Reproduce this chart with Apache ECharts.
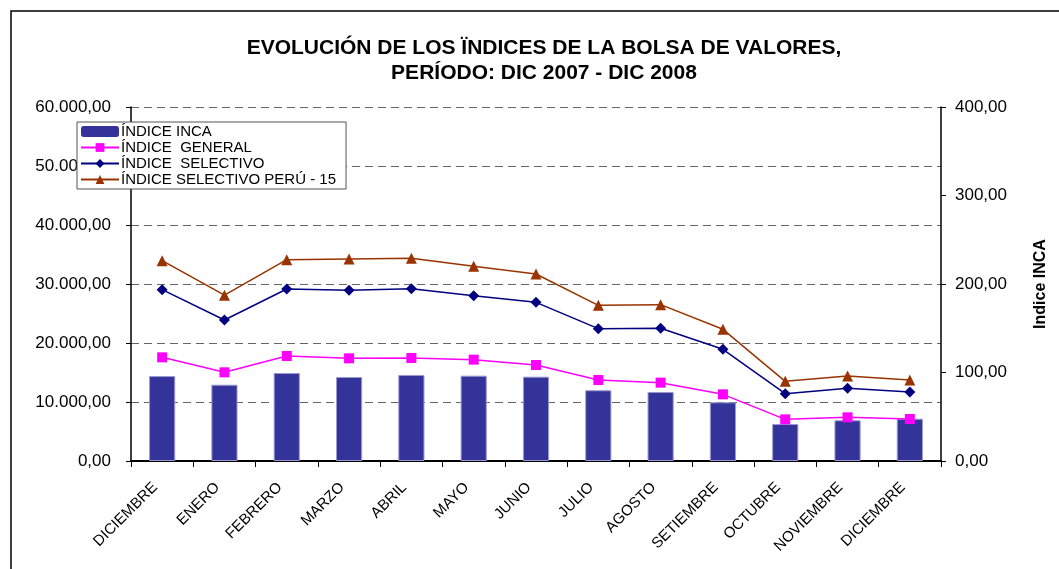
<!DOCTYPE html>
<html>
<head>
<meta charset="utf-8">
<script src="https://cdn.jsdelivr.net/npm/echarts@6/dist/echarts.min.js"></script>
<style>
  html, body { margin: 0; padding: 0; background: #ffffff; }
  #chart { width: 1059px; height: 569px; }
</style>
</head>
<body>
<div id="chart"></div>
<script>
// Months of the period Dec 2007 - Dec 2008
const categories = ['DICIEMBRE', 'ENERO', 'FEBRERO', 'MARZO', 'ABRIL', 'MAYO', 'JUNIO',
  'JULIO', 'AGOSTO', 'SETIEMBRE', 'OCTUBRE', 'NOVIEMBRE', 'DICIEMBRE'];

// Índice INCA (right axis)
const inca = [96.0, 86.2, 99.4, 94.9, 97.2, 96.4, 95.3, 79.9, 78.0, 66.3, 41.8, 46.0, 47.8];
// Índice General (left axis)
const general = [17570, 15030, 17800, 17400, 17460, 17180, 16270, 13730, 13280, 11300, 7060, 7400, 7120];
// Índice Selectivo (left axis)
const selectivo = [29040, 23900, 29150, 28930, 29210, 28020, 26890, 22430, 22490, 18930, 11410, 12320, 11700];
// Índice Selectivo Perú - 15 (left axis)
const peru15 = [33950, 28100, 34120, 34240, 34350, 32990, 31700, 26380, 26500, 22320, 13500, 14410, 13730];

const seriesNames = ['ÍNDICE INCA', 'ÍNDICE  GENERAL', 'ÍNDICE  SELECTIVO', 'ÍNDICE SELECTIVO PERÚ - 15'];

const FONT = "'Liberation Sans', Arial, sans-serif";

// 60000 -> "60.000,00"
function fmtEs(v) {
  const parts = Number(v).toFixed(2).split('.');
  const intPart = parts[0].replace(/\B(?=(\d{3})+(?!\d))/g, '.');
  return intPart + ',' + parts[1];
}

const chart = echarts.init(document.getElementById('chart'), null, { renderer: 'canvas' });

chart.setOption({
  backgroundColor: '#ffffff',
  animation: false,
  title: {
    text: 'EVOLUCIÓN DE LOS ÏNDICES DE LA BOLSA DE VALORES,\nPERÍODO: DIC 2007 - DIC 2008',
    left: 539,
    top: 31,
    textAlign: 'center',
    textStyle: {
      fontFamily: FONT,
      fontSize: 21,
      fontWeight: 'bold',
      color: '#000000',
      lineHeight: 25
    }
  },
  graphic: [{
    type: 'rect',
    shape: { x: 11, y: 11, width: 1100, height: 600 },
    style: { fill: 'none', stroke: '#000000', lineWidth: 1.5 },
    silent: true,
    z: -1
  }],
  legend: {
    data: [
      { name: seriesNames[0], itemStyle: { borderWidth: 0 } },
      seriesNames[1],
      seriesNames[2],
      seriesNames[3]
    ],
    orient: 'vertical',
    left: 77,
    top: 122,
    padding: [2, 10, 2, 3],
    itemGap: 1,
    itemWidth: 38,
    itemHeight: 11,
    backgroundColor: '#ffffff',
    borderColor: '#555555',
    borderWidth: 1,
    textStyle: { fontFamily: FONT, fontSize: 15, color: '#000000', padding: [0, 0, 0, -3] },
    z: 10
  },
  grid: { left: 131, right: 118, top: 107, bottom: 108, containLabel: false },
  xAxis: {
    type: 'category',
    data: categories,
    boundaryGap: true,
    axisLine: { show: true, lineStyle: { color: '#000000', width: 2 } },
    axisTick: { show: true, length: 6, lineStyle: { color: '#000000', width: 1 } },
    axisLabel: {
      rotate: 45,
      interval: 0,
      margin: 17,
      padding: [0, 10, 0, 0],
      fontFamily: FONT,
      fontSize: 15,
      color: '#000000'
    },
    splitLine: { show: false }
  },
  yAxis: [{
    type: 'value',
    min: 0,
    max: 60000,
    interval: 10000,
    position: 'left',
    axisLine: { show: true, lineStyle: { color: '#000000', width: 1.5 } },
    axisTick: { show: true, length: 5, lineStyle: { color: '#000000' } },
    axisLabel: {
      formatter: fmtEs,
      fontFamily: FONT,
      fontSize: 17,
      color: '#000000',
      margin: 20
    },
    splitLine: { show: true, lineStyle: { color: '#666666', width: 1, type: [8, 5] } }
  }, {
    type: 'value',
    min: 0,
    max: 400,
    interval: 100,
    position: 'right',
    name: 'Indice INCA',
    nameLocation: 'middle',
    nameRotate: 90,
    nameGap: 92,
    nameTextStyle: { fontFamily: FONT, fontSize: 16, fontWeight: 'bold', color: '#000000' },
    axisLine: { show: true, lineStyle: { color: '#000000', width: 1.5 } },
    axisTick: { show: true, length: 5, lineStyle: { color: '#000000' } },
    axisLabel: {
      formatter: fmtEs,
      fontFamily: FONT,
      fontSize: 17,
      color: '#000000',
      margin: 14
    },
    splitLine: { show: false }
  }],
  series: [{
    name: seriesNames[0],
    type: 'bar',
    yAxisIndex: 1,
    data: inca,
    barWidth: '42%',
    itemStyle: { color: '#333399', borderColor: '#9a9ad0', borderWidth: 1 },
    z: 1
  }, {
    name: seriesNames[1],
    type: 'line',
    yAxisIndex: 0,
    data: general,
    symbol: 'rect',
    symbolSize: 10,
    lineStyle: { color: '#ff00ff', width: 1.5 },
    itemStyle: { color: '#ff00ff' },
    z: 3
  }, {
    name: seriesNames[2],
    type: 'line',
    yAxisIndex: 0,
    data: selectivo,
    symbol: 'diamond',
    symbolSize: 11,
    lineStyle: { color: '#000080', width: 1.5 },
    itemStyle: { color: '#000080' },
    z: 3
  }, {
    name: seriesNames[3],
    type: 'line',
    yAxisIndex: 0,
    data: peru15,
    symbol: 'triangle',
    symbolSize: 11,
    lineStyle: { color: '#993300', width: 1.5 },
    itemStyle: { color: '#993300' },
    z: 3
  }]
});
</script>
</body>
</html>
